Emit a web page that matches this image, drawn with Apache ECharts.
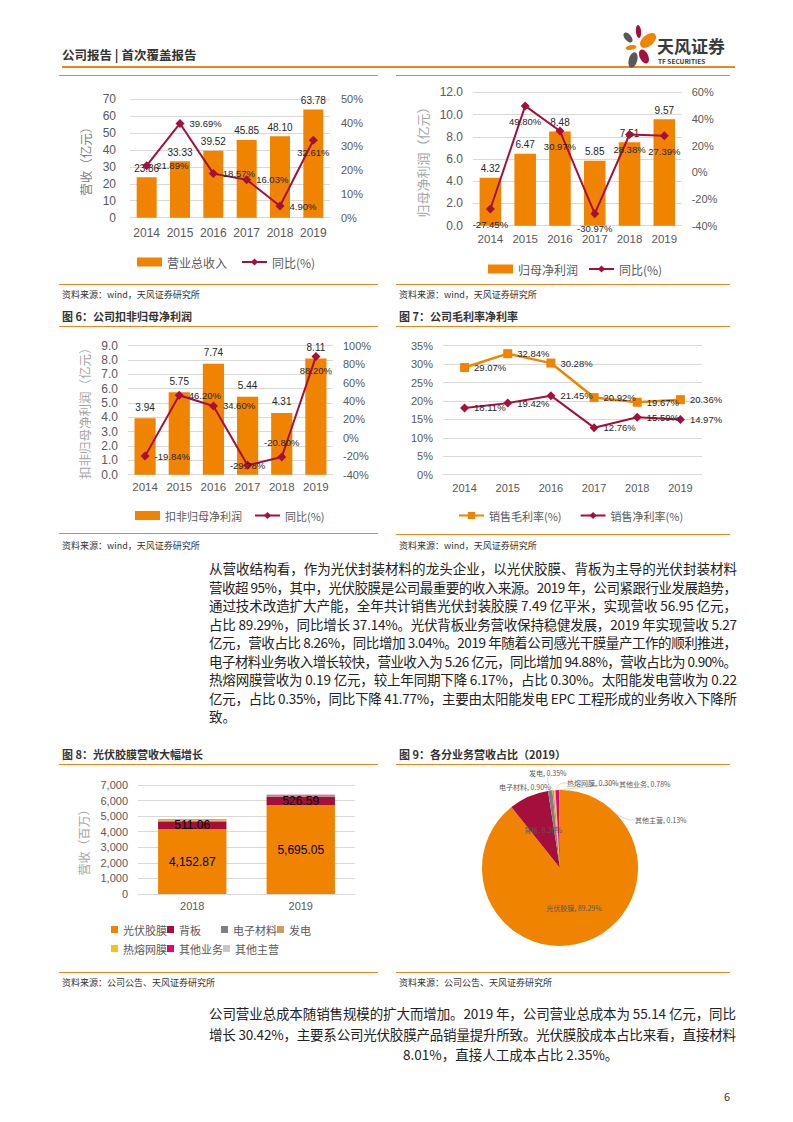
<!DOCTYPE html>
<html><head><meta charset="utf-8">
<script src="https://cdn.jsdelivr.net/npm/echarts/dist/echarts.min.js"></script>
<style>
html,body{margin:0;padding:0;background:#fff;}
body{width:793px;height:1122px;position:relative;overflow:hidden;font-family:"Noto Sans CJK SC",sans-serif;color:#333;}
.a{position:absolute;white-space:nowrap;}
.ol{position:absolute;height:1px;background:#F08519;}
.src{position:absolute;font-size:9px;line-height:12px;color:#333;white-space:nowrap;}
.ttl{position:absolute;font-size:11px;line-height:14px;font-weight:bold;color:#333;white-space:nowrap;}
.ch{position:absolute;}
.pl{position:absolute;font-size:13.5px;line-height:20px;height:20px;color:#222;white-space:nowrap;}
</style>
</head>
<body>
<!-- header -->
<div class="a" style="left:62px;top:46px;font-size:12.5px;line-height:18px;font-weight:bold;color:#333;">公司报告 | 首次覆盖报告</div>
<div class="a" style="left:62px;top:66px;width:673px;height:2px;background:#F08519;"></div>
<svg class="a" style="left:618px;top:20px" width="46" height="52">
  <ellipse cx="20.5" cy="11.5" rx="2.6" ry="6.5" fill="#A50F3C" transform="rotate(-5 20.5 11.5)"/>
  <ellipse cx="10" cy="17.5" rx="3.3" ry="6" fill="#595959" transform="rotate(-40 10 17.5)"/>
  <ellipse cx="30" cy="20.5" rx="5.5" ry="9.5" fill="#F08300" transform="rotate(50 30 20.5)"/>
  <ellipse cx="13" cy="27.5" rx="5.5" ry="2.4" fill="#F08300" transform="rotate(-10 13 27.5)"/>
  <ellipse cx="26" cy="36.5" rx="4.3" ry="7.5" fill="#A50F3C" transform="rotate(-25 26 36.5)"/>
  <ellipse cx="15" cy="40" rx="4.3" ry="8" fill="#595959" transform="rotate(15 15 40)"/>
</svg>
<div class="a" style="left:657px;top:37px;font-size:17px;line-height:18px;font-weight:bold;color:#3a3a3a;">天风证券</div>
<div class="a" style="left:658px;top:57px;font-size:6.5px;line-height:8px;font-weight:bold;color:#3a3a3a;">TF SECURITIES</div>
<div class="ol" style="left:59px;top:75px;width:319px;"></div>
<div class="ol" style="left:396px;top:75px;width:334px;"></div>

<!-- row 1 charts -->
<div id="cA" class="ch" style="left:60px;top:80px;width:330px;height:200px;"></div>
<div id="cB" class="ch" style="left:395px;top:80px;width:330px;height:200px;"></div>
<div class="ol" style="left:59px;top:284px;width:319px;"></div>
<div class="ol" style="left:396px;top:284px;width:334px;"></div>
<div class="src" style="left:62px;top:289px;">资料来源：wind，天风证券研究所</div>
<div class="src" style="left:399px;top:289px;">资料来源：wind，天风证券研究所</div>
<div class="ttl" style="left:62px;top:309px;">图 6：公司扣非归母净利润</div>
<div class="ttl" style="left:399px;top:309px;">图 7：公司毛利率净利率</div>
<div class="ol" style="left:59px;top:326px;width:319px;"></div>
<div class="ol" style="left:396px;top:326px;width:334px;"></div>

<!-- row 2 charts -->
<div id="cC" class="ch" style="left:60px;top:330px;width:330px;height:200px;"></div>
<div id="cD" class="ch" style="left:395px;top:330px;width:330px;height:200px;"></div>
<div class="ol" style="left:59px;top:533px;width:319px;"></div>
<div class="ol" style="left:396px;top:534px;width:334px;"></div>
<div class="src" style="left:62px;top:540px;">资料来源：wind，天风证券研究所</div>
<div class="src" style="left:399px;top:540px;">资料来源：wind，天风证券研究所</div>

<div id="p1"></div>

<!-- row 3 charts -->
<div class="ttl" style="left:62px;top:747px;">图 8：光伏胶膜营收大幅增长</div>
<div class="ttl" style="left:399px;top:747px;">图 9：各分业务营收占比（2019）</div>
<div class="ol" style="left:59px;top:764px;width:319px;"></div>
<div class="ol" style="left:396px;top:764px;width:334px;"></div>
<div id="cE" class="ch" style="left:60px;top:765px;width:330px;height:205px;"></div>
<div id="cF" class="ch" style="left:395px;top:765px;width:330px;height:205px;"></div>
<div class="ol" style="left:59px;top:972px;width:319px;"></div>
<div class="ol" style="left:396px;top:972px;width:334px;"></div>
<div class="src" style="left:62px;top:977px;">资料来源：公司公告、天风证券研究所</div>
<div class="src" style="left:399px;top:977px;">资料来源：公司公告、天风证券研究所</div>

<div id="p2"></div>
<div class="a" style="left:724px;top:1088px;font-size:11px;line-height:16px;color:#333;">6</div>

<script>
// ---------------- data ----------------
const years = ['2014', '2015', '2016', '2017', '2018', '2019'];
const revenue = [23.86, 33.33, 39.52, 45.85, 48.10, 63.78];
const revenueYoY = [21.89, 39.69, 18.57, 16.03, 4.90, 32.61];
const netProfit = [4.32, 6.47, 8.48, 5.85, 7.51, 9.57];
const netProfitYoY = [-27.45, 49.80, 30.97, -30.97, 28.38, 27.39];
const deductedProfit = [3.94, 5.75, 7.74, 5.44, 4.31, 8.11];
const deductedYoY = [-19.84, 46.20, 34.60, -29.78, -20.80, 88.20];
const grossMargin = [29.07, 32.84, 30.28, 20.92, 19.67, 20.36];
const netMargin = [18.11, 19.42, 21.45, 12.76, 15.59, 14.97];
const segYears = ['2018', '2019'];
const segNames = ['光伏胶膜', '背板', '电子材料', '发电', '热熔网膜', '其他业务', '其他主营'];
const seg2018 = [4152.87, 511.06, 29.5, 37.8, 20.4, 40.0, 10.0];
const seg2019 = [5695.05, 526.59, 57.4, 22.3, 19.1, 49.7, 8.3];
const pieShares2019 = [89.29, 8.26, 0.90, 0.35, 0.30, 0.78, 0.13];
const para1 = [
  '从营收结构看，作为光伏封装材料的龙头企业，以光伏胶膜、背板为主导的光伏封装材料',
  '营收超 95%，其中，光伏胶膜是公司最重要的收入来源。2019 年，公司紧跟行业发展趋势，',
  '通过技术改造扩大产能，全年共计销售光伏封装胶膜 7.49 亿平米，实现营收 56.95 亿元，',
  '占比 89.29%，同比增长 37.14%。光伏背板业务营收保持稳健发展，2019 年实现营收 5.27',
  '亿元，营收占比 8.26%，同比增加 3.04%。2019 年随着公司感光干膜量产工作的顺利推进，',
  '电子材料业务收入增长较快，营业收入为 5.26 亿元，同比增加 94.88%，营收占比为 0.90%。',
  '热熔网膜营收为 0.19 亿元，较上年同期下降 6.17%，占比 0.30%。太阳能发电营收为 0.22',
  '亿元，占比 0.35%，同比下降 41.77%，主要由太阳能发电 EPC 工程形成的业务收入下降所',
  '致。'
];
const para2 = [
  '公司营业总成本随销售规模的扩大而增加。2019 年，公司营业总成本为 55.14 亿元，同比',
  '增长 30.42%，主要系公司光伏胶膜产品销量提升所致。光伏膜胶成本占比来看，直接材料',
  '8.01%，直接人工成本占比 2.35%。'
];

// ---------------- styles ----------------
const ORANGE = '#F08300', CRIMSON = '#A50F3C';
const segColors = ['#F08300', '#A50F3C', '#808080', '#C9A15D', '#FFC000', '#E6007E', '#C8C8C8'];
const FL = '"Liberation Sans", Arial, "Noto Sans CJK SC", sans-serif';
const FC = '"Noto Sans CJK SC", sans-serif';
const GRID = '#D9D9D9';

// ---------------- paragraphs ----------------
function placeLines(host, lines, x0, w, ys, lastFree, xs) {
  const el = document.getElementById(host);
  lines.forEach((t, i) => {
    const d = document.createElement('div');
    d.className = 'pl';
    const left = xs && xs[i] != null ? xs[i] : x0;
    d.style.left = left + 'px';
    d.style.top = (ys[i] - 10) + 'px';
    d.textContent = t;
    el.appendChild(d);
    if (!(lastFree && lastFree(i))) {
      const nat = d.getBoundingClientRect().width;
      const n = Array.from(t).length;
      const target = w - (left - x0);
      if (n > 1) d.style.letterSpacing = ((target - nat) / (n - 1)) + 'px';
    }
  });
}
placeLines('p1', para1, 209, 528, para1.map((_, i) => 568 + i * 18.5), i => i === para1.length - 1);
placeLines('p2', para2, 209, 527, [1013, 1034, 1054], i => i === 2, [null, null, 403]);

// ---------------- charts ----------------
function mk(id, opt) {
  const c = echarts.init(document.getElementById(id), null, { renderer: 'svg' });
  opt.animation = false;
  opt.textStyle = { fontFamily: FL };
  c.setOption(opt);
}
const axL = (size, extra) => Object.assign({ color: '#595959', fontSize: size, fontFamily: FL }, extra || {});
const catX = (size, margin) => ({
  type: 'category', data: years, axisTick: { show: false },
  axisLine: { lineStyle: { color: GRID } }, axisLabel: axL(size, { margin: margin, interval: 0 })
});
const pct = v => v.toFixed(2) + '%';
const lbl = { fontSize: 10, color: '#262626', fontFamily: FL };
const lblL = { fontSize: 9.5, color: '#262626', fontFamily: FL };

// Chart A
const posA = ['right', 'right', 'right', 'right', 'right', 'bottom'];
mk('cA', {
  grid: { left: 70, right: 60, top: 19, height: 118.7 },
  legend: {
    left: 72, top: 171, itemWidth: 25, itemHeight: 9, itemGap: 14,
    textStyle: { fontSize: 12, color: '#595959', fontFamily: FC },
    data: [{ name: '营业总收入', icon: 'rect' }, '同比(%)']
  },
  xAxis: catX(12, 9),
  yAxis: [
    { type: 'value', min: 0, max: 70, interval: 10, name: '营收（亿元）', nameLocation: 'middle', nameGap: 36,
      nameTextStyle: { color: '#7F7F7F', fontSize: 12.5, fontFamily: FC },
      axisLabel: axL(12, { margin: 14 }), splitLine: { lineStyle: { color: GRID } } },
    { type: 'value', min: 0, max: 50, interval: 10, axisLabel: axL(11, { margin: 11, formatter: '{value}%' }), splitLine: { show: false } }
  ],
  series: [
    { name: '营业总收入', type: 'bar', data: revenue, barWidth: '60%', itemStyle: { color: ORANGE },
      label: Object.assign({ show: true, position: 'top', distance: 4, formatter: p => p.value.toFixed(2) }, lbl) },
    { name: '同比(%)', type: 'line', yAxisIndex: 1, symbol: 'diamond', symbolSize: 9,
      data: revenueYoY.map((v, i) => ({ value: v, label: { position: posA[i], distance: posA[i] === 'bottom' ? 3 : 5 } })),
      lineStyle: { color: CRIMSON, width: 2 }, itemStyle: { color: CRIMSON },
      label: Object.assign({ show: true, position: 'right', formatter: p => pct(p.value) }, lblL) }
  ]
});

// Chart B
mk('cB', {
  grid: { left: 78, right: 43.3, top: 12.3, height: 133.4 },
  legend: {
    left: 88, top: 178, itemWidth: 25, itemHeight: 9, itemGap: 10,
    textStyle: { fontSize: 12, color: '#595959', fontFamily: FC },
    data: [{ name: '归母净利润', icon: 'rect' }, '同比(%)']
  },
  xAxis: catX(11.5, 8),
  yAxis: [
    { type: 'value', min: 0, max: 12, interval: 2, name: '归母净利润（亿元）', nameLocation: 'middle', nameGap: 43,
      nameTextStyle: { color: '#A6A6A6', fontSize: 13, fontFamily: FC },
      axisLabel: axL(12, { margin: 10, formatter: v => v.toFixed(1) }), splitLine: { lineStyle: { color: GRID } } },
    { type: 'value', min: -40, max: 60, interval: 20, axisLabel: axL(11, { margin: 10, formatter: '{value}%' }), splitLine: { show: false } }
  ],
  series: [
    { name: '归母净利润', type: 'bar', data: netProfit, barWidth: '62%', itemStyle: { color: ORANGE },
      label: Object.assign({ show: true, position: 'top', distance: 4, formatter: p => p.value.toFixed(2) }, lbl) },
    { name: '同比(%)', type: 'line', yAxisIndex: 1, data: netProfitYoY, symbol: 'diamond', symbolSize: 9,
      lineStyle: { color: CRIMSON, width: 2 }, itemStyle: { color: CRIMSON },
      label: Object.assign({ show: true, position: 'bottom', distance: 6, formatter: p => pct(p.value) }, lblL) }
  ]
});

// Chart C
const posC = ['right', 'right', 'right', 'inside', 'top', 'bottom'];
mk('cC', {
  grid: { left: 68, right: 57, top: 15.7, height: 129 },
  legend: {
    left: 70, top: 175, itemWidth: 25, itemHeight: 9, itemGap: 12,
    textStyle: { fontSize: 11, color: '#595959', fontFamily: FC },
    data: [{ name: '扣非归母净利润', icon: 'rect' }, '同比(%)']
  },
  xAxis: catX(11.5, 7),
  yAxis: [
    { type: 'value', min: 0, max: 9, interval: 1, name: '扣非归母净利润（亿元）', nameLocation: 'middle', nameGap: 34,
      nameTextStyle: { color: '#A6A6A6', fontSize: 12.5, fontFamily: FC },
      axisLabel: axL(12, { margin: 10, formatter: v => v.toFixed(1) }), splitLine: { lineStyle: { color: GRID } } },
    { type: 'value', min: -40, max: 100, interval: 20, axisLabel: axL(11, { margin: 10, formatter: '{value}%' }), splitLine: { show: false } }
  ],
  series: [
    { name: '扣非归母净利润', type: 'bar', data: deductedProfit, barWidth: '62%', itemStyle: { color: ORANGE },
      label: Object.assign({ show: true, position: 'top', distance: 6, formatter: p => p.value.toFixed(2) }, lbl) },
    { name: '同比(%)', type: 'line', yAxisIndex: 1, symbol: 'diamond', symbolSize: 9,
      data: deductedYoY.map((v, i) => ({ value: v, label: { position: posC[i] } })),
      lineStyle: { color: CRIMSON, width: 2 }, itemStyle: { color: CRIMSON },
      label: Object.assign({ show: true, position: 'right', formatter: p => pct(p.value) }, lblL) }
  ]
});

// Chart D
mk('cD', {
  grid: { left: 48, right: 23, top: 15.7, height: 129 },
  legend: {
    left: 58, top: 175, itemWidth: 25, itemHeight: 9, itemGap: 18,
    textStyle: { fontSize: 11, color: '#595959', fontFamily: FC },
    data: ['销售毛利率(%)', '销售净利率(%)']
  },
  xAxis: catX(11, 8),
  yAxis: { type: 'value', min: 0, max: 35, interval: 5, axisLabel: axL(11, { margin: 10, formatter: '{value}%' }),
    splitLine: { lineStyle: { color: GRID } } },
  series: [
    { name: '销售毛利率(%)', type: 'line', data: grossMargin, symbol: 'rect', symbolSize: 9,
      lineStyle: { color: ORANGE, width: 2.5 }, itemStyle: { color: ORANGE },
      label: Object.assign({ show: true, position: 'right', formatter: p => pct(p.value) }, lblL) },
    { name: '销售净利率(%)', type: 'line', data: netMargin, symbol: 'diamond', symbolSize: 9,
      lineStyle: { color: CRIMSON, width: 2 }, itemStyle: { color: CRIMSON },
      label: Object.assign({ show: true, position: 'right', formatter: p => pct(p.value) }, lblL) }
  ]
});

// Chart E
const fmtK = v => v.toLocaleString('en-US', { minimumFractionDigits: 2, maximumFractionDigits: 2 });
mk('cE', {
  grid: { left: 78, right: 35, top: 20, height: 109 },
  legend: {
    left: 46, top: 150, width: 232, itemWidth: 7, itemHeight: 7, itemGap: 0,
    textStyle: { fontSize: 11, color: '#595959', fontFamily: FC, width: 42, lineHeight: 19 },
    data: segNames.map(n => ({ name: n, icon: 'rect' }))
  },
  xAxis: { type: 'category', data: segYears, axisTick: { show: false }, axisLine: { lineStyle: { color: GRID } },
    axisLabel: axL(11, { margin: 6 }) },
  yAxis: { type: 'value', min: 0, max: 7000, interval: 1000, name: '营收（百万）', nameLocation: 'middle', nameGap: 44,
    nameTextStyle: { color: '#A6A6A6', fontSize: 12, fontFamily: FC },
    axisLabel: axL(11, { margin: 10, formatter: v => v.toLocaleString('en-US') }),
    splitLine: { lineStyle: { color: GRID } } },
  series: segNames.map((n, i) => ({
    name: n, type: 'bar', stack: 'seg', barWidth: '63%', data: [seg2018[i], seg2019[i]],
    itemStyle: { color: segColors[i] },
    label: i < 2 ? { show: true, position: 'inside', fontSize: 12, color: '#000', fontFamily: FL, formatter: p => fmtK(p.value) } : { show: false }
  }))
});

// Chart F — label spots for the small outer slices (label placement only)
const pieLabelSpots = { 2: [104, 22], 3: [134, 8], 4: [172, 18], 5: [224, 19], 6: [240, 55] };
mk('cF', {
  series: [{
    type: 'pie', center: [165, 103], radius: 78, startAngle: 90, clockwise: true,
    avoidLabelOverlap: false,
    data: segNames.map((n, i) => ({ name: n, value: pieShares2019[i], itemStyle: { color: segColors[i] },
      label: i < 2 ? { position: 'inside' } : {}, labelLine: i < 2 ? { show: false } : {} })),
    label: { show: true, fontSize: 7, color: '#595959', fontFamily: FC, formatter: p => p.name + ', ' + p.value.toFixed(2) + '%' },
    labelLine: { show: true, length: 8, length2: 6, lineStyle: { color: '#BFBFBF', width: 0.6 } },
    labelLayout: p => {
      const s = pieLabelSpots[p.dataIndex];
      return s ? { x: s[0], y: s[1], align: 'left', verticalAlign: 'middle' } : {};
    }
  }]
});
</script>
</body></html>
